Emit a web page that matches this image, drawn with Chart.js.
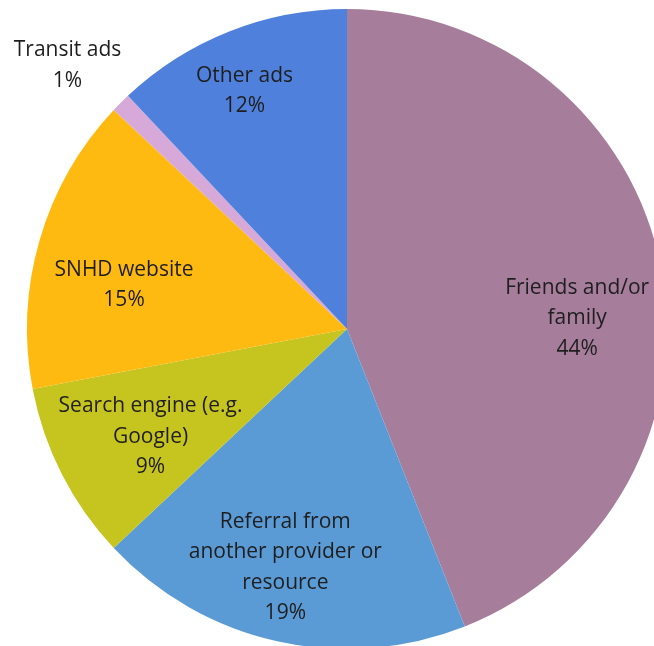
<!DOCTYPE html>
<html>
<head>
<meta charset="utf-8">
<script src="https://cdn.jsdelivr.net/npm/chart.js@4.4.1/dist/chart.umd.min.js"></script>
<style>
    html, body { margin: 0; padding: 0; background: #fff; overflow: hidden; }
    #wrap { position: absolute; left: 0; top: 0; width: 700px; height: 700px; }
</style>
</head>
<body>
<div id="wrap"><canvas id="sourcePie"></canvas></div>
<script>
// slices in clockwise order starting from 12 o'clock
const categories = [
    ["Friends and/or", "family"],
    ["Referral from", "another provider or", "resource"],
    ["Search engine (e.g.", "Google)"],
    ["SNHD website"],
    ["Transit ads"],
    ["Other ads"],
];
const percents = [44, 19, 9, 15, 1, 12];
const colors = ["#A67D9B", "#5B9BD5", "#C6C41F", "#FFBA12", "#D7A9D8", "#4F81DC"];

// where each label sits: fraction of the radius and a nudge (deg) from the slice middle
const labelRadius = [0.72, 0.77, 0.70, 0.71, 1.20, 0.81];
const labelNudge = [8.1, 1.9, -1.7, -5.1, -1.7, -1.7];

const sliceLabels = {
    id: "sliceLabels",
    afterDatasetsDraw(chart) {
        const ctx = chart.ctx;
        const arcs = chart.getDatasetMeta(0).data;
        ctx.save();
        ctx.font = "21px 'Open Sans'";
        ctx.fillStyle = "#1e1e1e";
        ctx.textAlign = "center";
        ctx.textBaseline = "middle";
        const lineH = 30.5;
        arcs.forEach((arc, i) => {
            const mid = (arc.startAngle + arc.endAngle) / 2 + (labelNudge[i] * Math.PI) / 180;
            const r = arc.outerRadius * labelRadius[i];
            const cx = arc.x + r * Math.cos(mid);
            const cy = arc.y + r * Math.sin(mid);
            const lines = [...categories[i], percents[i] + "%"];
            const top = cy - ((lines.length - 1) * lineH) / 2;
            lines.forEach((t, k) => ctx.fillText(t, cx, top + k * lineH));
        });
        ctx.restore();
    },
};

new Chart(document.getElementById("sourcePie"), {
    type: "pie",
    data: {
        labels: categories.map((c) => c.join(" ")),
        datasets: [
            {
                data: percents,
                backgroundColor: colors,
                borderWidth: 0,
            },
        ],
    },
    options: {
        responsive: true,
        maintainAspectRatio: false,
        animation: false,
        layout: {
            padding: { left: 27, top: 9, right: 33, bottom: 51 },
        },
        plugins: {
            legend: { display: false },
            tooltip: { enabled: false },
        },
    },
    plugins: [sliceLabels],
});
</script>
</body>
</html>
